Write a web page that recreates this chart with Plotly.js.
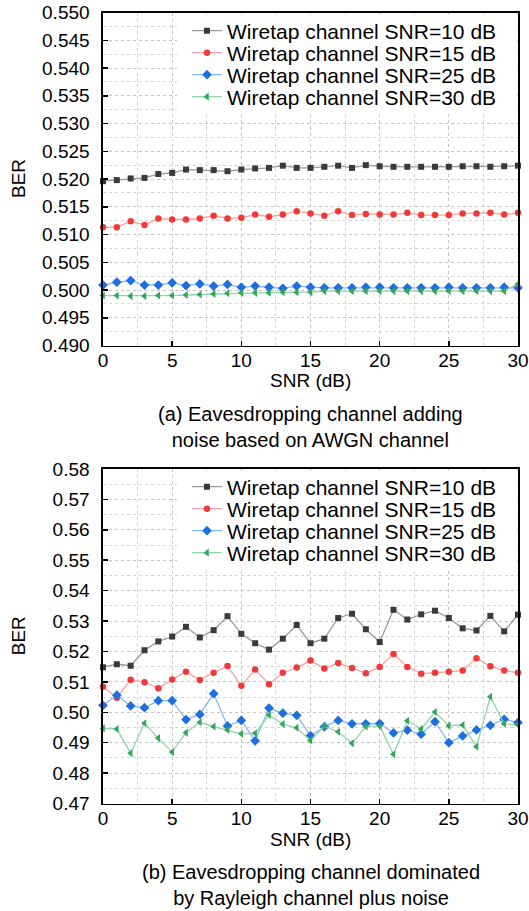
<!DOCTYPE html>
<html>
<head>
<meta charset="utf-8">
<script src="https://cdn.plot.ly/plotly-3.0.1.min.js"></script>
<style>
html, body { margin: 0; padding: 0; background: #ffffff; }
#chart { width: 529px; height: 911px; }
</style>
</head>
<body>
<div id="chart"></div>
<script>
// ---------- data ----------
const snr = [0, 1, 2, 3, 4, 5, 6, 7, 8, 9, 10, 11, 12, 13, 14, 15, 16, 17, 18, 19, 20, 21, 22, 23, 24, 25, 26, 27, 28, 29, 30];

const seriesNames = [
  'Wiretap channel SNR=10 dB',
  'Wiretap channel SNR=15 dB',
  'Wiretap channel SNR=25 dB',
  'Wiretap channel SNR=30 dB'
];

// (a) AWGN-based eavesdropping channel
const awgn10 = [0.5196, 0.5198, 0.5201, 0.5202, 0.5209, 0.5211, 0.5217, 0.5216, 0.5216, 0.5214, 0.5217, 0.5219, 0.5220, 0.5224, 0.5220, 0.5220, 0.5222, 0.5224, 0.5220, 0.5225, 0.5223, 0.5222, 0.5222, 0.5222, 0.5222, 0.5222, 0.5223, 0.5223, 0.5222, 0.5223, 0.5224];
const awgn15 = [0.5113, 0.5113, 0.5124, 0.5117, 0.5129, 0.5127, 0.5127, 0.5129, 0.5134, 0.5129, 0.5130, 0.5136, 0.5132, 0.5136, 0.5142, 0.5138, 0.5134, 0.5142, 0.5135, 0.5137, 0.5136, 0.5136, 0.5139, 0.5135, 0.5135, 0.5135, 0.5138, 0.5138, 0.5139, 0.5136, 0.5139];
const awgn25 = [0.5009, 0.5014, 0.5017, 0.5009, 0.5009, 0.5013, 0.5008, 0.5011, 0.5007, 0.5010, 0.5005, 0.5007, 0.5005, 0.5003, 0.5007, 0.5005, 0.5004, 0.5004, 0.5004, 0.5005, 0.5005, 0.5004, 0.5004, 0.5004, 0.5004, 0.5005, 0.5004, 0.5004, 0.5004, 0.5005, 0.5004];
const awgn30 = [0.4990, 0.4990, 0.4989, 0.4989, 0.4990, 0.4990, 0.4991, 0.4992, 0.4993, 0.4994, 0.4995, 0.4995, 0.4995, 0.4996, 0.4996, 0.4996, 0.4998, 0.4998, 0.4998, 0.4998, 0.4998, 0.4998, 0.4998, 0.4998, 0.4998, 0.4998, 0.4998, 0.4998, 0.4998, 0.4998, 0.5011];

// (b) Rayleigh-dominated eavesdropping channel
const ray10 = [0.5148, 0.5158, 0.5153, 0.5204, 0.5233, 0.5249, 0.5281, 0.5246, 0.5270, 0.5316, 0.5258, 0.5227, 0.5206, 0.5242, 0.5287, 0.5227, 0.5242, 0.5310, 0.5324, 0.5273, 0.5231, 0.5337, 0.5305, 0.5322, 0.5334, 0.5310, 0.5276, 0.5269, 0.5317, 0.5266, 0.5321];
const ray15 = [0.5084, 0.5048, 0.5107, 0.5099, 0.5079, 0.5108, 0.5133, 0.5106, 0.5130, 0.5152, 0.5087, 0.5141, 0.5092, 0.5130, 0.5147, 0.5170, 0.5144, 0.5162, 0.5146, 0.5128, 0.5149, 0.5192, 0.5149, 0.5127, 0.5130, 0.5133, 0.5137, 0.5178, 0.5151, 0.5137, 0.5130];
const ray25 = [0.5023, 0.5056, 0.5021, 0.5015, 0.5038, 0.5038, 0.4976, 0.4993, 0.5061, 0.4955, 0.4973, 0.4906, 0.5014, 0.4997, 0.4990, 0.4923, 0.4952, 0.4973, 0.4962, 0.4962, 0.4963, 0.4932, 0.4941, 0.4928, 0.4969, 0.4900, 0.4922, 0.4942, 0.4957, 0.4977, 0.4966];
const ray30 = [0.4947, 0.4945, 0.4865, 0.4964, 0.4915, 0.4869, 0.4933, 0.4967, 0.4953, 0.4942, 0.4929, 0.4931, 0.4991, 0.4961, 0.4949, 0.4907, 0.4955, 0.4936, 0.4898, 0.4953, 0.4955, 0.4862, 0.4972, 0.4945, 0.5001, 0.4956, 0.4958, 0.4887, 0.5051, 0.4962, 0.4959];

const topTicks = [0.490, 0.495, 0.500, 0.505, 0.510, 0.515, 0.520, 0.525, 0.530, 0.535, 0.540, 0.545, 0.550];
const bottomTicks = [0.47, 0.48, 0.49, 0.50, 0.51, 0.52, 0.53, 0.54, 0.55, 0.56, 0.57, 0.58];
const xTicks = [0, 5, 10, 15, 20, 25, 30];

const captionA = '(a) Eavesdropping channel adding<br>noise based on AWGN channel';
const captionB = '(b) Eavesdropping channel dominated<br>by Rayleigh channel plus noise';

// ---------- styles ----------
const W = 529, H = 911;
const FONT = 'Liberation Sans, Arial, Helvetica, sans-serif';
const px = v => v / W;
const py = v => 1 - v / H;

const styles = [
  { symbol: 'square',        marker: '#3a3a3a', line: '#9a9a9a', size: 6 },
  { symbol: 'circle',        marker: '#f03a3a', line: '#f5a3a3', size: 6.5 },
  { symbol: 'diamond',       marker: '#1c6fe0', line: '#8cb6ef', size: 7.5 },
  { symbol: 'triangle-left', marker: '#2fa85c', line: '#92d3aa', size: 7 }
];

const plotLeft = 103, plotRight = 518;
const topPlot = { top: 12.5, bottom: 345.5 };
const botPlot = { top: 469, bottom: 803.5 };

const topLegendY = [31, 53, 75, 97];
const botLegendY = [487, 509, 531, 553];

const traces = [];
const topSeries = [awgn10, awgn15, awgn25, awgn30];
const botSeries = [ray10, ray15, ray25, ray30];

function addTraces(series, xa, ya, legendOffset) {
  series.forEach((vals, i) => {
    const s = styles[i];
    traces.push({
      type: 'scatter', mode: 'lines+markers',
      x: snr, y: vals, xaxis: xa, yaxis: ya,
      name: seriesNames[i],
      legend: legendOffset + i === 1 ? 'legend' : 'legend' + (legendOffset + i),
      cliponaxis: false,
      line: { color: s.line, width: 1.3 },
      marker: { symbol: s.symbol, color: s.marker, size: s.size, line: { width: 0 } }
    });
  });
}
addTraces(topSeries, 'x', 'y', 1);
addTraces(botSeries, 'x2', 'y2', 5);

const gridDash = '3px,3px';
function xAxis(anchor) {
  return {
    anchor: anchor, domain: [px(plotLeft), px(plotRight)],
    range: [0, 30], tickmode: 'array', tickvals: xTicks, ticktext: xTicks.map(String),
    showline: true, mirror: true, linecolor: '#000', linewidth: 1.6,
    ticks: 'inside', ticklen: 5, tickwidth: 1.5, tickcolor: '#000',
    showgrid: true, gridcolor: '#c4c4c4', gridwidth: 1, griddash: gridDash,
    minor: { dtick: 2.5, tick0: 0, showgrid: true, gridcolor: '#d6d6d6', griddash: gridDash, ticks: '' },
    zeroline: false, ticklabelstandoff: -3,
    tickfont: { family: FONT, size: 19, color: '#000' }
  };
}
function yAxis(anchor, domain, range, ticks, fmt, minorStep) {
  return {
    anchor: anchor, domain: domain, range: range,
    tickmode: 'array', tickvals: ticks, ticktext: ticks.map(v => v.toFixed(fmt)),
    showline: true, mirror: true, linecolor: '#000', linewidth: 1.6,
    ticks: 'inside', ticklen: 5, tickwidth: 1.5, tickcolor: '#000',
    showgrid: true, gridcolor: '#c4c4c4', gridwidth: 1, griddash: gridDash,
    minor: { dtick: minorStep, tick0: range[0], showgrid: true, gridcolor: '#d6d6d6', griddash: gridDash, ticks: '' },
    zeroline: false, ticklabelstandoff: 8,
    tickfont: { family: FONT, size: 19, color: '#000' }
  };
}

// white legend backdrop (covers grid lines behind the legend, as in the reference)
function legendBox(topPx, bottomPx) {
  return { type: 'rect', xref: 'paper', yref: 'paper',
    x0: px(177), x1: px(plotRight - 2), y0: py(bottomPx), y1: py(topPx + 2),
    fillcolor: '#ffffff', line: { width: 0 }, layer: 'above' };
}

const layout = {
  width: W, height: H,
  margin: { l: 0, r: 0, t: 0, b: 0, pad: 0 },
  paper_bgcolor: '#fff', plot_bgcolor: '#fff',
  font: { family: FONT, color: '#000' },
  xaxis: xAxis('y'),
  yaxis: yAxis('x', [py(topPlot.bottom), py(topPlot.top)], [0.490, 0.550], topTicks, 3, 0.0025),
  xaxis2: xAxis('y2'),
  yaxis2: yAxis('x2', [py(botPlot.bottom), py(botPlot.top)], [0.47, 0.58], bottomTicks, 2, 0.005),
  shapes: [ legendBox(topPlot.top, 113.5), legendBox(botPlot.top, 570) ],
  annotations: [
    { text: 'BER', x: px(18), y: py((topPlot.top + topPlot.bottom) / 2), textangle: -90 },
    { text: 'BER', x: px(18), y: py((botPlot.top + botPlot.bottom) / 2), textangle: -90 },
    { text: 'SNR (dB)', x: px((plotLeft + plotRight) / 2), y: py(381) },
    { text: 'SNR (dB)', x: px((plotLeft + plotRight) / 2), y: py(839) },
    { text: captionA, x: px((plotLeft + plotRight) / 2), y: py(427), size: 20 },
    { text: captionB, x: px((plotLeft + plotRight) / 2), y: py(885), size: 20 }
  ].map(a => ({
    text: a.text, x: a.x, y: a.y, xref: 'paper', yref: 'paper',
    xanchor: 'center', yanchor: 'middle', showarrow: false, textangle: a.textangle || 0,
    font: { family: FONT, size: a.size || 19, color: '#000' }
  })),
  showlegend: true
};

const legendYs = topLegendY.concat(botLegendY);
legendYs.forEach((yc, k) => {
  const key = k === 0 ? 'legend' : 'legend' + (k + 1);
  layout[key] = {
    x: px(187), xanchor: 'left', y: py(yc), yanchor: 'middle',
    bgcolor: 'rgba(0,0,0,0)', borderwidth: 0,
    font: { family: FONT, size: 21, color: '#000' },
    itemclick: false, itemdoubleclick: false
  };
});

Plotly.newPlot('chart', traces, layout, { displayModeBar: false, staticPlot: true });
</script>
</body>
</html>
